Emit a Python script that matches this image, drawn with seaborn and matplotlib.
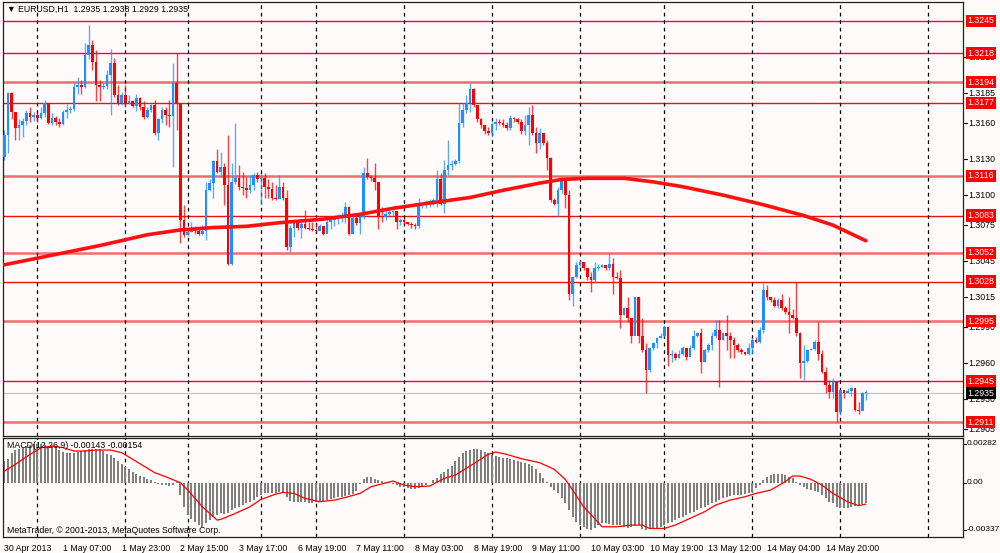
import numpy as np
import matplotlib
matplotlib.use('Agg')
from matplotlib import pyplot as plt
import matplotlib.transforms as mtransforms
import seaborn as sns

# EURUSD H1 candles (open = previous close)
first_open = 1.3132
close = [
    1.3150, 1.3185, 1.3169, 1.3156, 1.3158, 1.3162, 1.3168, 1.3165, 1.3167, 1.3164,
    1.3168, 1.3177, 1.3160, 1.3164, 1.3161, 1.3159, 1.3169, 1.3171, 1.3172, 1.3190,
    1.3192, 1.3190, 1.3217, 1.3225, 1.3211, 1.3192, 1.3190, 1.3191, 1.3200, 1.3210,
    1.3183, 1.3177, 1.3183, 1.3177, 1.3178, 1.3174, 1.3181, 1.3173, 1.3165, 1.3171,
    1.3175, 1.3152, 1.3163, 1.3171, 1.3167, 1.3166, 1.3193, 1.3177, 1.3079, 1.3067,
    1.3069, 1.3073, 1.3070, 1.3068, 1.3070, 1.3104, 1.3110, 1.3128, 1.3119, 1.3123,
    1.3108, 1.3043, 1.3111, 1.3114, 1.3107, 1.3106, 1.3104, 1.3108, 1.3117, 1.3113,
    1.3114, 1.3107, 1.3105, 1.3098, 1.3097, 1.3107, 1.3098, 1.3057, 1.3073, 1.3077,
    1.3073, 1.3076, 1.3073, 1.3072, 1.3071, 1.3070, 1.3074, 1.3068, 1.3078, 1.3079,
    1.3080, 1.3081, 1.3083, 1.3090, 1.3068, 1.3081, 1.3077, 1.3082, 1.3118, 1.3115,
    1.3114, 1.3111, 1.3083, 1.3082, 1.3084, 1.3086, 1.3087, 1.3078, 1.3079, 1.3078,
    1.3076, 1.3075, 1.3074, 1.3092, 1.3093, 1.3094, 1.3095, 1.3096, 1.3113, 1.3093,
    1.3121, 1.3125, 1.3126, 1.3128, 1.3160, 1.3171, 1.3177, 1.3188, 1.3175, 1.3163,
    1.3158, 1.3153, 1.3152, 1.3159, 1.3161, 1.3160, 1.3158, 1.3156, 1.3164, 1.3163,
    1.3161, 1.3153, 1.3158, 1.3167, 1.3152, 1.3143, 1.3152, 1.3143, 1.3131, 1.3096,
    1.3093, 1.3104, 1.3113, 1.3100, 1.3018, 1.3032, 1.3042, 1.3044, 1.3039, 1.3032,
    1.3029, 1.3039, 1.3040, 1.3042, 1.3039, 1.3043, 1.3032, 1.3031, 1.3000, 1.3006,
    1.2998, 1.2983, 1.3015, 1.2983, 1.2971, 1.2954, 1.2973, 1.2977, 1.2981, 1.2983,
    1.2990, 1.2967, 1.2968, 1.2964, 1.2968, 1.2973, 1.2965, 1.2973, 1.2983, 1.2985,
    1.2961, 1.2971, 1.2975, 1.2983, 1.2988, 1.2979, 1.2985, 1.2983, 1.2979, 1.2975,
    1.2971, 1.2969, 1.2968, 1.2973, 1.2979, 1.2978, 1.2988, 1.3021, 1.3015, 1.3013,
    1.3008, 1.3013, 1.3006, 1.3003, 1.3000, 1.2998, 1.2985, 1.2960, 1.2962, 1.2971,
    1.2972, 1.2978, 1.2968, 1.2953, 1.2942, 1.2936, 1.2944, 1.2919, 1.2938, 1.2935,
    1.2937, 1.2939, 1.2921, 1.2920, 1.2935, 1.2935]
high = [
    1.3154, 1.3186, 1.3186, 1.3167, 1.3163, 1.3164, 1.3171, 1.3173, 1.3169, 1.3169,
    1.3173, 1.3179, 1.3177, 1.3168, 1.3166, 1.3164, 1.3171, 1.3176, 1.3174, 1.3193,
    1.3198, 1.3196, 1.3227, 1.3242, 1.3229, 1.3221, 1.3196, 1.3194, 1.3204, 1.3222,
    1.3214, 1.3192, 1.3186, 1.3192, 1.3183, 1.3179, 1.3184, 1.3182, 1.3178, 1.3173,
    1.3176, 1.3179, 1.3164, 1.3173, 1.3173, 1.3179, 1.3210, 1.3218, 1.3177, 1.3092,
    1.3073, 1.3078, 1.3074, 1.3072, 1.3075, 1.3111, 1.3113, 1.3129, 1.3138, 1.3136,
    1.3127, 1.3150, 1.3127, 1.3160, 1.3125, 1.3119, 1.3115, 1.3117, 1.3118, 1.3119,
    1.3118, 1.3118, 1.3113, 1.3111, 1.3108, 1.3117, 1.3111, 1.3104, 1.3075, 1.3079,
    1.3079, 1.3078, 1.3088, 1.3078, 1.3078, 1.3077, 1.3076, 1.3074, 1.3079, 1.3082,
    1.3083, 1.3084, 1.3086, 1.3094, 1.3091, 1.3085, 1.3083, 1.3085, 1.3123, 1.3131,
    1.3117, 1.3127, 1.3111, 1.3090, 1.3088, 1.3088, 1.3088, 1.3086, 1.3081, 1.3081,
    1.3078, 1.3078, 1.3077, 1.3098, 1.3093, 1.3096, 1.3097, 1.3098, 1.3121, 1.3118,
    1.3129, 1.3146, 1.3129, 1.3130, 1.3177, 1.3177, 1.3183, 1.3193, 1.3189, 1.3171,
    1.3164, 1.3158, 1.3157, 1.3161, 1.3164, 1.3163, 1.3163, 1.3161, 1.3167, 1.3165,
    1.3164, 1.3163, 1.3167, 1.3173, 1.3175, 1.3157, 1.3156, 1.3150, 1.3146, 1.3132,
    1.3098, 1.3107, 1.3114, 1.3114, 1.3104, 1.3033, 1.3044, 1.3046, 1.3044, 1.3039,
    1.3036, 1.3044, 1.3043, 1.3043, 1.3042, 1.3052, 1.3048, 1.3036, 1.3038, 1.3007,
    1.3015, 1.2998, 1.3015, 1.3015, 1.2998, 1.2977, 1.2973, 1.2978, 1.2982, 1.2985,
    1.2992, 1.2979, 1.2971, 1.2969, 1.2971, 1.2974, 1.2972, 1.2975, 1.2988, 1.2986,
    1.2989, 1.2972, 1.2977, 1.2986, 1.2996, 1.2996, 1.2986, 1.3000, 1.2986, 1.2982,
    1.2977, 1.2973, 1.2969, 1.2977, 1.2982, 1.2982, 1.2990, 1.3027, 1.3025, 1.3015,
    1.3015, 1.3014, 1.3018, 1.3008, 1.3015, 1.3005, 1.3028, 1.2986, 1.2975, 1.2972,
    1.2973, 1.2979, 1.2994, 1.2971, 1.2957, 1.2946, 1.2948, 1.2938, 1.2938, 1.2936,
    1.2939, 1.2940, 1.2938, 1.2928, 1.2936, 1.2938]
low = [
    1.3129, 1.3135, 1.3163, 1.3146, 1.3146, 1.3148, 1.3158, 1.3161, 1.3162, 1.3161,
    1.3163, 1.3165, 1.3159, 1.3158, 1.3158, 1.3157, 1.3158, 1.3164, 1.3168, 1.3170,
    1.3184, 1.3184, 1.3189, 1.3213, 1.3204, 1.3178, 1.3178, 1.3188, 1.3188, 1.3167,
    1.3182, 1.3175, 1.3175, 1.3173, 1.3176, 1.3173, 1.3170, 1.3171, 1.3163, 1.3164,
    1.3169, 1.3150, 1.3146, 1.3160, 1.3158, 1.3157, 1.3123, 1.3154, 1.3060, 1.3065,
    1.3066, 1.3069, 1.3068, 1.3067, 1.3067, 1.3063, 1.3103, 1.3098, 1.3118, 1.3115,
    1.3092, 1.3042, 1.3042, 1.3109, 1.3104, 1.3100, 1.3098, 1.3102, 1.3104, 1.3111,
    1.3092, 1.3098, 1.3098, 1.3096, 1.3096, 1.3100, 1.3096, 1.3054, 1.3053, 1.3065,
    1.3071, 1.3064, 1.3072, 1.3071, 1.3070, 1.3069, 1.3071, 1.3067, 1.3069, 1.3072,
    1.3074, 1.3076, 1.3078, 1.3077, 1.3067, 1.3068, 1.3075, 1.3068, 1.3080, 1.3113,
    1.3112, 1.3104, 1.3072, 1.3078, 1.3079, 1.3082, 1.3083, 1.3072, 1.3075, 1.3076,
    1.3075, 1.3073, 1.3072, 1.3073, 1.3089, 1.3089, 1.3090, 1.3092, 1.3090, 1.3092,
    1.3085, 1.3117, 1.3121, 1.3125, 1.3127, 1.3157, 1.3168, 1.3169, 1.3173, 1.3161,
    1.3156, 1.3151, 1.3150, 1.3149, 1.3154, 1.3158, 1.3157, 1.3154, 1.3154, 1.3161,
    1.3159, 1.3151, 1.3150, 1.3142, 1.3150, 1.3135, 1.3138, 1.3142, 1.3121, 1.3094,
    1.3092, 1.3083, 1.3102, 1.3089, 1.3013, 1.3008, 1.3031, 1.3040, 1.3038, 1.3029,
    1.3019, 1.3027, 1.3038, 1.3040, 1.3038, 1.3038, 1.3018, 1.3030, 1.2989, 1.3000,
    1.2994, 1.2977, 1.2994, 1.2977, 1.2969, 1.2935, 1.2953, 1.2971, 1.2973, 1.2981,
    1.2982, 1.2958, 1.2961, 1.2963, 1.2964, 1.2967, 1.2963, 1.2971, 1.2971, 1.2982,
    1.2952, 1.2961, 1.2969, 1.2971, 1.2981, 1.2940, 1.2979, 1.2971, 1.2964, 1.2964,
    1.2969, 1.2968, 1.2967, 1.2967, 1.2968, 1.2977, 1.2977, 1.2985, 1.3013, 1.3011,
    1.3007, 1.3006, 1.3004, 1.3001, 1.2985, 1.2997, 1.2983, 1.2948, 1.2946, 1.2961,
    1.2971, 1.2971, 1.2963, 1.2952, 1.2935, 1.2931, 1.2931, 1.2911, 1.2917, 1.2931,
    1.2935, 1.2933, 1.2920, 1.2918, 1.2925, 1.2929]

# moving average (thick red line), read at some bars
ma_bar = [0, 13, 26, 39, 48, 57, 66, 75, 87, 97, 106, 115, 127, 136, 146, 152,
          159, 169, 177, 185, 196, 207, 218, 226, 235]
ma_val = [1.3042, 1.3050, 1.3058, 1.3067, 1.3071, 1.3073, 1.3074, 1.3077, 1.3080,
          1.3084, 1.3089, 1.3093, 1.3098, 1.3104, 1.3110, 1.3113, 1.3114, 1.3114,
          1.3111, 1.3107, 1.3100, 1.3092, 1.3083, 1.3075, 1.3062]

# MACD(12,26,9) histogram, one value per bar
macd_hist = [
    0.00156, 0.00173, 0.00216, 0.00233, 0.00244, 0.00252, 0.00262, 0.00269, 0.00276, 0.00281,
    0.00279, 0.00272, 0.00267, 0.00262, 0.00255, 0.00235, 0.00221, 0.00216, 0.00211, 0.00216,
    0.00221, 0.00228, 0.00233, 0.00240, 0.00244, 0.00244, 0.00240, 0.00226, 0.00209, 0.00197,
    0.00180, 0.00154, 0.00132, 0.00115, 0.00096, 0.00077, 0.00063, 0.00050, 0.00041, 0.00026,
    0.00017, 0.00007, -0.00010, -0.00015, -0.00020, -0.00022, -0.00020, 0.00005, -0.00089, -0.00173,
    -0.00233, -0.00264, -0.00281, -0.00305, -0.00317, -0.00293, -0.00269, -0.00250, -0.00233, -0.00221,
    -0.00226, -0.00216, -0.00197, -0.00185, -0.00173, -0.00161, -0.00149, -0.00137, -0.00125, -0.00106,
    -0.00089, -0.00077, -0.00077, -0.00072, -0.00072, -0.00070, -0.00077, -0.00101, -0.00130, -0.00137,
    -0.00139, -0.00139, -0.00142, -0.00144, -0.00144, -0.00142, -0.00137, -0.00132, -0.00125, -0.00120,
    -0.00113, -0.00106, -0.00101, -0.00093, -0.00088, -0.00084, -0.00060, -0.00010, 0.00025, 0.00043,
    0.00040, 0.00030, 0.00022, 0.00015, 0.00008, 0.00002, -0.00010, -0.00020, -0.00028, -0.00032,
    -0.00038, -0.00042, -0.00045, -0.00040, -0.00030, -0.00020, -0.00005, 0.00020, 0.00036, 0.00060,
    0.00077, 0.00096, 0.00120, 0.00156, 0.00187, 0.00216, 0.00230, 0.00235, 0.00244, 0.00244,
    0.00235, 0.00221, 0.00211, 0.00197, 0.00192, 0.00185, 0.00180, 0.00175, 0.00168, 0.00163,
    0.00158, 0.00151, 0.00144, 0.00134, 0.00120, 0.00101, 0.00072, 0.00036, 0.00005, -0.00029,
    -0.00053, -0.00077, -0.00113, -0.00149, -0.00197, -0.00245, -0.00281, -0.00305, -0.00320, -0.00332,
    -0.00337, -0.00329, -0.00305, -0.00293, -0.00293, -0.00298, -0.00305, -0.00305, -0.00305, -0.00317,
    -0.00329, -0.00317, -0.00312, -0.00305, -0.00336, -0.00337, -0.00336, -0.00333, -0.00329, -0.00317,
    -0.00305, -0.00293, -0.00281, -0.00269, -0.00257, -0.00245, -0.00233, -0.00221, -0.00209, -0.00197,
    -0.00185, -0.00173, -0.00161, -0.00149, -0.00137, -0.00125, -0.00113, -0.00101, -0.00096, -0.00091,
    -0.00089, -0.00086, -0.00084, -0.00077, -0.00065, -0.00041, -0.00017, 0.00019, 0.00043, 0.00055,
    0.00060, 0.00060, 0.00060, 0.00055, 0.00043, 0.00031, 0.00007, -0.00017, -0.00034, -0.00048,
    -0.00053, -0.00058, -0.00065, -0.00089, -0.00113, -0.00137, -0.00149, -0.00173, -0.00180, -0.00182,
    -0.00180, -0.00178, -0.00170, -0.00163, -0.00155, -0.00143]

# MACD signal line, read at some bars
signal_bar = [0, 3, 7, 10, 13, 16, 19, 22, 25, 29, 32, 35, 38, 41, 44, 48, 50, 54,
              57, 58, 59, 63, 67, 70, 74, 76, 79, 82, 86, 90, 93, 97, 100, 106, 109,
              112, 116, 120, 123, 127, 132, 134, 137, 141, 146, 150, 153, 155, 158,
              161, 163, 167, 171, 174, 176, 180, 183, 187, 191, 194, 198, 202, 205,
              209, 213, 215, 217, 220, 223, 226, 230, 233, 235]
signal_val = [0.00084, 0.00132, 0.00204, 0.00252, 0.00264, 0.00252, 0.00228, 0.00228,
              0.00235, 0.00235, 0.00216, 0.00168, 0.00120, 0.00072, 0.00043, 0.00000,
              -0.00053, -0.00173, -0.00245, -0.00269, -0.00264, -0.00221, -0.00173,
              -0.00120, -0.00082, -0.00070, -0.00077, -0.00113, -0.00137, -0.00125,
              -0.00106, -0.00077, -0.00029, 0.00012, -0.00017, -0.00029, -0.00024,
              0.00031, 0.00055, 0.00120, 0.00204, 0.00221, 0.00204, 0.00173, 0.00144,
              0.00096, 0.00024, -0.00053, -0.00173, -0.00257, -0.00317, -0.00317,
              -0.00305, -0.00305, -0.00329, -0.00329, -0.00305, -0.00257, -0.00209,
              -0.00161, -0.00125, -0.00101, -0.00077, -0.00053, 0.00007, 0.00048,
              0.00048, 0.00024, -0.00017, -0.00077, -0.00137, -0.00165, -0.00154]

# horizontal levels drawn on the chart
levels = [1.3245, 1.3218, 1.3194, 1.3177, 1.3116, 1.3083, 1.3052, 1.3028,
          1.2995, 1.2945, 1.2911]
soft_levels = [1.3194, 1.3116, 1.3052, 1.2995, 1.2911]
bid = 1.2935
price_ticks = [1.3215, 1.3185, 1.3160, 1.3130, 1.3100, 1.3075, 1.3045, 1.3015,
               1.2990, 1.2960, 1.2930, 1.2905]
date_labels = ['30 Apr 2013', '1 May 07:00', '1 May 23:00', '2 May 15:00',
               '3 May 17:00', '6 May 19:00', '7 May 11:00', '8 May 03:00',
               '8 May 19:00', '9 May 11:00', '10 May 03:00', '10 May 19:00',
               '13 May 12:00', '14 May 04:00', '14 May 20:00']
day_bars = [9, 33, 50, 70, 85, 109, 133, 157, 180, 204, 228, 252]

sns.set_style('white')
plt.rcParams['font.family'] = ['Liberation Sans', 'DejaVu Sans']
bg = '#fffbfa'
bull = '#1e90ff'
bear = '#ff0000'
fs = 6.3

n = len(close)
idx = np.arange(n)
c = np.array(close)
o = np.concatenate([[first_open], c[:-1]])
h = np.array(high)
l = np.array(low)
up = c >= o
colors = np.where(up, bull, bear)

fig = plt.figure(figsize=(10, 5.53), dpi=100, facecolor=bg)
ax = fig.add_axes([0.003, 1 - 436 / 553, 0.960, 434 / 553])
ax2 = fig.add_axes([0.003, 1 - 537 / 553, 0.960, 99 / 553])

xlim = (-0.4, 261.5)
for a in (ax, ax2):
    a.set_facecolor(bg)
    a.set_xlim(*xlim)
    for s in a.spines.values():
        s.set_color('#202020')
        s.set_linewidth(0.9)
    for d in day_bars:
        a.axvline(d, color='black', lw=0.9, ls=(0, (3, 3)), zorder=1.5)

# price panel
ax.set_ylim(1.28994, 1.32608)
for lv in levels:
    if lv in soft_levels:
        ax.axhline(lv, color='#f26a6a', lw=1.8, zorder=1)
    else:
        ax.axhline(lv, color='#ee1111', lw=1.0, zorder=1)
ax.axhline(bid, color='#c0c0c0', lw=0.8, zorder=1)

ax.vlines(idx, l, h, colors=colors, lw=1.0, alpha=0.75, zorder=2)
body_lo = np.minimum(o, c)
body_h = np.maximum(np.abs(c - o), 0.00008)
ax.bar(idx, body_h, bottom=body_lo, width=0.72, color=colors, linewidth=0, zorder=3)

sns.lineplot(x=ma_bar, y=ma_val, ax=ax, color='#ff1010', lw=2.6, zorder=4, legend=False)

ax.set_xticks([])
ax.set_yticks([])
ax.set_xlabel('')
ax.set_ylabel('')

tr = mtransforms.blended_transform_factory(ax.transAxes, ax.transData)
for p in price_ticks:
    ax.plot([1.0, 1.004], [p, p], transform=tr, color='black', lw=0.8, clip_on=False)
    ax.text(1.006, p, f'{p:.4f}', transform=tr, va='center', ha='left',
            fontsize=fs, color='black', clip_on=False)
for lv in levels:
    ax.text(1.0045, lv, f'{lv:.4f}', transform=tr, va='center', ha='left',
            fontsize=fs, color='white', clip_on=False, zorder=10,
            bbox=dict(boxstyle='square,pad=0.18', fc='#ff0000', ec='none'))
ax.text(1.0045, bid, f'{bid:.4f}', transform=tr, va='center', ha='left',
        fontsize=fs, color='white', clip_on=False, zorder=11,
        bbox=dict(boxstyle='square,pad=0.18', fc='black', ec='none'))

ax.text(0.004, 0.982, '\u25bc EURUSD,H1  1.2935 1.2938 1.2929 1.2935',
        transform=ax.transAxes, va='center', ha='left', fontsize=fs, color='black')

# MACD panel
ax2.set_ylim(-0.003906, 0.003216)
ax2.bar(idx, macd_hist, width=0.55, color='#808080', linewidth=0, zorder=2)
sns.lineplot(x=signal_bar, y=signal_val, ax=ax2, color='#ff0000', lw=0.9, zorder=3, legend=False)
ax2.set_yticks([])
ax2.set_ylabel('')
ax2.set_xticks(np.arange(len(date_labels)) * 16)
ax2.set_xticklabels(date_labels, ha='left', fontsize=fs)
ax2.tick_params(axis='x', direction='out', length=3, width=0.8, pad=2, colors='black')
ax2.set_xlabel('')

tr2 = mtransforms.blended_transform_factory(ax2.transAxes, ax2.transData)
for v, t in [(0.00282, '0.00282'), (0.0, '0.00'), (-0.00337, '-0.00337')]:
    ax2.plot([1.0, 1.003], [v, v], transform=tr2, color='black', lw=0.8, clip_on=False)
    ax2.text(1.0035, v, t, transform=tr2, va='center', ha='left',
             fontsize=6.0, color='black', clip_on=False)

ax2.text(0.004, 0.92, 'MACD(12,26,9) -0.00143 -0.00154', transform=ax2.transAxes,
         va='center', ha='left', fontsize=fs, color='black', zorder=5)
ax2.text(0.004, 0.07, 'MetaTrader, \u00a9 2001-2013, MetaQuotes Software Corp.',
         transform=ax2.transAxes, va='center', ha='left', fontsize=fs, color='black', zorder=5)

fig.savefig('out.png', dpi=100, facecolor=bg)
